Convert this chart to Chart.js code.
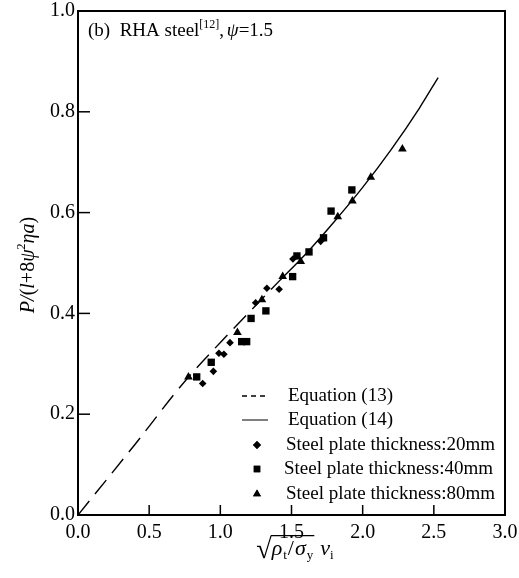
<!DOCTYPE html>
<html><head><meta charset="utf-8">
<script src="https://cdn.jsdelivr.net/npm/chart.js@4/dist/chart.umd.min.js"></script>
<style>html,body{margin:0;padding:0;background:#fff}#wrap{width:519px;height:578px}</style>
</head><body><div id="wrap"><canvas id="c" width="519" height="578"></canvas></div>
<script>
const xTicks = [0, 0.5, 1.0, 1.5, 2.0, 2.5, 3.0];
const yTicks = [0, 0.2, 0.4, 0.6, 0.8, 1.0];
// Equation (13) dashed, Equation (14) solid
const eq13X = [0, 0.4, 0.75, 1.08, 1.42];
const eq13Y = [0, 0.14, 0.265, 0.366, 0.466];
const eq14X = [1.42, 1.6, 1.8, 2.0, 2.2, 2.4, 2.53];
const eq14Y = [0.466, 0.518, 0.582, 0.650, 0.725, 0.808, 0.868];
// Steel plate thickness 20 mm (diamonds)
const t20X = [0.876, 0.951, 0.99, 1.025, 1.068, 1.248, 1.327, 1.413, 1.51, 1.705];
const t20Y = [0.261, 0.285, 0.321, 0.319, 0.342, 0.421, 0.450, 0.448, 0.508, 0.543];
// Steel plate thickness 40 mm (squares)
const t40X = [0.834, 0.936, 1.15, 1.185, 1.216, 1.32, 1.508, 1.538, 1.623, 1.725, 1.778, 1.924];
const t40Y = [0.274, 0.303, 0.344, 0.344, 0.390, 0.405, 0.473, 0.514, 0.522, 0.550, 0.603, 0.645];
// Steel plate thickness 80 mm (triangles)
const t80X = [0.776, 1.12, 1.292, 1.438, 1.565, 1.825, 1.928, 2.057, 2.279];
const t80Y = [0.274, 0.362, 0.427, 0.473, 0.503, 0.592, 0.623, 0.670, 0.726];

const legendLabels = ['Equation (13)', 'Equation (14)', 'Steel plate thickness:20mm', 'Steel plate thickness:40mm', 'Steel plate thickness:80mm'];

const pts = (xs, ys) => xs.map((v, i) => ({x: v, y: ys[i]}));
const SERIF = '"Liberation Serif", "Times New Roman", serif';

const datasets = [
  {label: legendLabels[2], data: pts(t20X, t20Y), pointStyle: 'rectRot', pointRadius: 3.8, backgroundColor: '#000', borderColor: '#000', borderWidth: 0, showLine: false},
  {label: legendLabels[3], data: pts(t40X, t40Y), pointStyle: 'rect', pointRadius: 5.2, backgroundColor: '#000', borderColor: '#000', borderWidth: 0, showLine: false},
  {label: legendLabels[4], data: pts(t80X, t80Y), pointStyle: 'triangle', pointRadius: 5, backgroundColor: '#000', borderColor: '#000', borderWidth: 0, showLine: false},
  {label: legendLabels[0], data: pts(eq13X, eq13Y), showLine: true, borderColor: '#000', borderWidth: 1.4, borderDash: [18, 9], pointRadius: 0, cubicInterpolationMode: 'monotone'},
  {label: legendLabels[1], data: pts(eq14X, eq14Y), showLine: true, borderColor: '#000', borderWidth: 1.4, pointRadius: 0, cubicInterpolationMode: 'monotone'}
];

const deco = {
  id: 'deco',
  afterDraw(chart) {
    const {ctx, chartArea: a, scales: {x, y}} = chart;
    ctx.save();
    ctx.strokeStyle = '#000';
    ctx.fillStyle = '#000';
    // top and right frame
    ctx.lineWidth = 2;
    ctx.beginPath();
    ctx.moveTo(a.left - 1, a.top);
    ctx.lineTo(a.right, a.top);
    ctx.lineTo(a.right, a.bottom + 1);
    ctx.stroke();
    // inward tick marks
    ctx.lineWidth = 1.5;
    xTicks.forEach(v => {
      if (v <= 0 || v >= 3) return;
      const px = x.getPixelForValue(v);
      ctx.beginPath(); ctx.moveTo(px, a.bottom); ctx.lineTo(px, a.bottom - 10); ctx.stroke();
    });
    yTicks.forEach(v => {
      if (v <= 0 || v >= 1) return;
      const py = y.getPixelForValue(v);
      ctx.beginPath(); ctx.moveTo(a.left, py); ctx.lineTo(a.left + 12, py); ctx.stroke();
    });

    // panel title
    ctx.textBaseline = 'alphabetic';
    ctx.textAlign = 'left';
    let tx = a.left + 10, ty = 36;
    const f = (s, st) => { ctx.font = (st || '') + ' ' + s + 'px ' + SERIF; };
    f(19); ctx.fillText('(b)  RHA steel', tx, ty); tx += ctx.measureText('(b)  RHA steel').width;
    f(12); ctx.fillText('[12]', tx, ty - 8); tx += ctx.measureText('[12]').width;
    f(19); ctx.fillText(', ', tx, ty); tx += ctx.measureText(', ').width - 2;
    f(19, 'italic'); ctx.fillText('ψ', tx, ty); tx += ctx.measureText('ψ').width;
    f(19); ctx.fillText('=1.5', tx, ty);

    // legend
    const lx0 = 242, lx1 = 268, mx = 257;
    const rows = [396, 420, 445, 469, 494];
    const tX = [288, 288, 286, 284, 286];
    ctx.lineWidth = 1.4;
    ctx.setLineDash([5, 4]);
    ctx.beginPath(); ctx.moveTo(lx0, rows[0]); ctx.lineTo(lx1 + 1, rows[0]); ctx.stroke();
    ctx.setLineDash([]);
    ctx.lineWidth = 1;
    ctx.beginPath(); ctx.moveTo(lx0, rows[1]); ctx.lineTo(lx1, rows[1]); ctx.stroke();
    const H = Chart.helpers;
    H.drawPoint(ctx, {pointStyle: 'rectRot', radius: 4, rotation: 0, borderWidth: 0}, mx, rows[2]); ctx.fill();
    H.drawPoint(ctx, {pointStyle: 'rect', radius: 4.6, rotation: 0, borderWidth: 0}, mx, rows[3]); ctx.fill();
    H.drawPoint(ctx, {pointStyle: 'triangle', radius: 4.6, rotation: 0, borderWidth: 0}, mx, rows[4]); ctx.fill();
    f(19);
    ctx.textBaseline = 'middle';
    legendLabels.forEach((t, i) => ctx.fillText(t, tX[i], rows[i]));

    // y-axis title (rotated)
    ctx.save();
    ctx.translate(29, 265);
    ctx.rotate(-Math.PI / 2);
    ctx.textBaseline = 'middle';
    const yParts = [['P', 'italic', 20, 0], ['/', 'italic', 20, 0], ['(', '', 20, 0], ['l', 'italic', 20, 0], ['+8', '', 20, 0], ['ψ', 'italic', 20, 0], ['2', '', 12, -7], ['ηa', 'italic', 20, 0], [')', '', 20, 0]];
    let w = 0;
    yParts.forEach(p => { f(p[2], p[1]); w += ctx.measureText(p[0]).width; });
    let cx = -w / 2;
    yParts.forEach(p => { f(p[2], p[1]); ctx.fillText(p[0], cx, p[3]); cx += ctx.measureText(p[0]).width; });
    ctx.restore();

    // x-axis title: sqrt(rho_t / sigma_y) nu_i
    ctx.textBaseline = 'alphabetic';
    const bx = 555;
    const parts = [['ρ', 'italic', 22, 0], ['t', '', 13, 4], ['/', '', 22, 0], ['σ', 'italic', 22, 0], ['y', '', 13, 4]];
    f(28); const sq = '√'; const sqW = ctx.measureText(sq).width;
    let inner = 0; parts.forEach(p => { f(p[2], p[1]); inner += ctx.measureText(p[0]).width + 1; });
    f(22, 'italic'); const nuW = ctx.measureText('ν').width; f(13); const iW = ctx.measureText('i').width;
    const total = sqW + inner + 6 + nuW + iW;
    let sx = 295 - total / 2;
    f(28); ctx.fillText(sq, sx, bx + 3);
    const m = ctx.measureText(sq);
    const topY = bx + 3 - m.actualBoundingBoxAscent;
    sx += sqW;
    const startOver = sx - 1;
    parts.forEach(p => { f(p[2], p[1]); ctx.fillText(p[0], sx, bx + p[3]); sx += ctx.measureText(p[0]).width + 1; });
    ctx.lineWidth = 1.2;
    ctx.beginPath(); ctx.moveTo(startOver, topY + 0.6); ctx.lineTo(sx, topY + 0.6); ctx.stroke();
    sx += 6;
    f(22, 'italic'); ctx.fillText('ν', sx, bx); sx += nuW;
    f(13); ctx.fillText('i', sx, bx + 4);
    ctx.restore();
  }
};

new Chart(document.getElementById('c'), {
  type: 'scatter',
  data: {datasets},
  options: {
    responsive: false,
    animation: false,
    devicePixelRatio: 1,
    layout: {padding: {top: 11, right: 14, left: 0, bottom: 0}},
    plugins: {legend: {display: false}, tooltip: {enabled: false}},
    scales: {
      x: {
        type: 'linear', min: 0, max: 3,
        afterBuildTicks: s => { s.ticks = xTicks.map(v => ({value: v})); },
        afterFit: s => { s.height = 63; s.paddingLeft = 0; s.paddingRight = 0; },
        grid: {display: false, drawTicks: false},
        border: {display: true, color: '#000', width: 2},
        ticks: {color: '#000', padding: 6, maxRotation: 0, autoSkip: false, font: {family: SERIF, size: 20}, callback: v => Number(v).toFixed(1)}
      },
      y: {
        type: 'linear', min: 0, max: 1,
        afterBuildTicks: s => { s.ticks = yTicks.map(v => ({value: v})); },
        afterFit: s => { s.width = 78; s.paddingTop = 0; s.paddingBottom = 0; },
        grid: {display: false, drawTicks: false},
        border: {display: true, color: '#000', width: 2},
        ticks: {color: '#000', padding: 3, autoSkip: false, font: {family: SERIF, size: 20}, callback: v => Number(v).toFixed(1)}
      }
    }
  },
  plugins: [deco]
});
</script>
</body></html>
